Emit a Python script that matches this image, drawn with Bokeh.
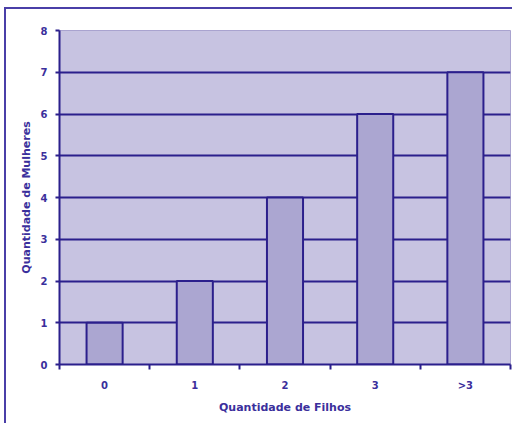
from bokeh.plotting import figure
from bokeh.models import FixedTicker, Range1d
from bokeh.embed import file_html
from bokeh.resources import INLINE

categories = ["0", "1", "2", "3", ">3"]
values = [1, 2, 4, 6, 7]
y_ticks = [0, 1, 2, 3, 4, 5, 6, 7, 8]

navy = "#2B1F8C"
text_col = "#3B2F9C"
bg = "#C7C3E1"
bar_col = "#ABA6D1"
border_col = "#4A3FA8"
font = "DejaVu Sans"

centers = [i + 0.5 for i in range(len(categories))]
bounds = list(range(len(categories) + 1))

grad = f"linear-gradient({border_col}, {border_col})"
p = figure(width=512, height=423, output_backend="svg", toolbar_location=None,
           x_range=Range1d(0, len(categories)), y_range=Range1d(0, 8),
           min_border_left=59, min_border_top=30, min_border_bottom=59, min_border_right=2,
           background_fill_color=bg, border_fill_color=None,
           outline_line_color="#A9A3CF", outline_line_width=1,
           styles={"background-color": "white",
                   "background-image": f"{grad}, {grad}",
                   "background-position": "4px 7px, 4px 7px",
                   "background-size": "2px 100%, 100% 2px",
                   "background-repeat": "no-repeat, no-repeat"})

p.vbar(x=centers, top=values, width=0.4, bottom=0,
       fill_color=bar_col, line_color=navy, line_width=2)

p.xgrid.grid_line_color = None
p.ygrid.ticker = FixedTicker(ticks=y_ticks)
p.ygrid.grid_line_color = navy
p.ygrid.grid_line_width = 2

xa = p.xaxis[0]
xa.ticker = FixedTicker(ticks=centers, minor_ticks=bounds)
xa.major_label_overrides = {c: lab for c, lab in zip(centers, categories)}
xa.major_tick_line_color = None
xa.major_tick_out = 0
xa.major_tick_in = 0
xa.minor_tick_line_color = navy
xa.minor_tick_line_width = 2
xa.minor_tick_out = 5
xa.minor_tick_in = 0
xa.axis_line_color = navy
xa.axis_line_width = 2
xa.major_label_standoff = 10
xa.axis_label = "Quantidade de Filhos"
xa.axis_label_standoff = 7

ya = p.yaxis[0]
ya.ticker = FixedTicker(ticks=y_ticks)
ya.minor_tick_line_color = None
ya.major_tick_line_color = navy
ya.major_tick_line_width = 2
ya.major_tick_out = 4
ya.major_tick_in = 0
ya.axis_line_color = navy
ya.axis_line_width = 2
ya.major_label_standoff = 8
ya.axis_label = "Quantidade de Mulheres"
ya.axis_label_standoff = 5

for ax in (xa, ya):
    ax.major_label_text_font = font
    ax.major_label_text_font_size = "10px"
    ax.major_label_text_font_style = "bold"
    ax.major_label_text_color = text_col
    ax.axis_label_text_font = font
    ax.axis_label_text_font_size = "11px"
    ax.axis_label_text_font_style = "bold"
    ax.axis_label_text_color = text_col

open("out.html", "w").write(file_html(p, INLINE))
